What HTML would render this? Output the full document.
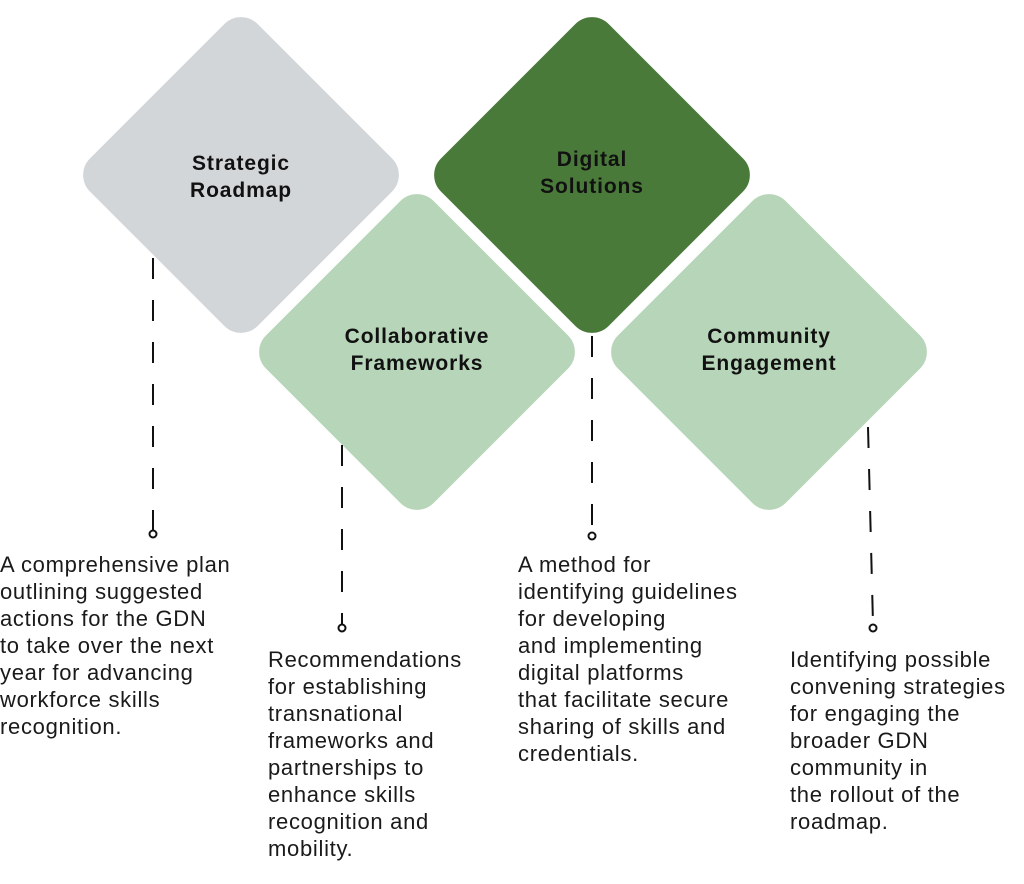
<!DOCTYPE html>
<html><head><meta charset="utf-8"><style>
html,body{margin:0;padding:0;background:#fff;}
body{width:1024px;height:884px;position:relative;overflow:hidden;font-family:"Liberation Sans",sans-serif;}
svg{position:absolute;left:0;top:0;}
.t{position:absolute;font-size:22px;line-height:27px;color:#1a1a1a;white-space:nowrap;letter-spacing:0.7px;}
</style></head><body>
<svg width="1024" height="884" viewBox="0 0 1024 884">
<g stroke="#fff" stroke-width="5">
<rect x="-121" y="-121" width="242" height="242" rx="26" fill="#d3d6d9" transform="translate(241,175) rotate(45)"/>
<rect x="-121" y="-121" width="242" height="242" rx="26" fill="#4a7a3a" transform="translate(592,175) rotate(45)"/>
<rect x="-121" y="-121" width="242" height="242" rx="26" fill="#b7d5b8" transform="translate(417,352) rotate(45)"/>
<rect x="-121" y="-121" width="242" height="242" rx="26" fill="#b7d5b8" transform="translate(769,352) rotate(45)"/>
</g>
<g font-family="Liberation Sans, sans-serif" font-weight="bold" font-size="21" letter-spacing="0.9" text-anchor="middle" fill="#111">
<text x="241" y="170">Strategic</text><text x="241" y="197">Roadmap</text>
<text x="592" y="166">Digital</text><text x="592" y="193">Solutions</text>
<text x="417" y="343">Collaborative</text><text x="417" y="370">Frameworks</text>
<text x="769" y="343">Community</text><text x="769" y="370">Engagement</text>
</g>
<g stroke="#111" stroke-width="2" fill="none" stroke-dasharray="21 21">
<line x1="153" y1="258" x2="153" y2="531"/>
<line x1="342" y1="445" x2="342" y2="624"/>
<line x1="592" y1="336" x2="592" y2="532"/>
<line x1="868" y1="427" x2="873" y2="624"/>
</g>
<g stroke="#111" stroke-width="2" fill="#fff">
<circle cx="153" cy="534" r="3.5"/>
<circle cx="342" cy="628" r="3.5"/>
<circle cx="592" cy="536" r="3.5"/>
<circle cx="873" cy="628" r="3.5"/>
</g>
</svg>
<div class="t" style="left:0;top:551px;">A comprehensive plan<br>outlining suggested<br>actions for the GDN<br>to take over the next<br>year for advancing<br>workforce skills<br>recognition.</div>
<div class="t" style="left:268px;top:646px;">Recommendations<br>for establishing<br>transnational<br>frameworks and<br>partnerships to<br>enhance skills<br>recognition and<br>mobility.</div>
<div class="t" style="left:518px;top:551px;">A method for<br>identifying guidelines<br>for developing<br>and implementing<br>digital platforms<br>that facilitate secure<br>sharing of skills and<br>credentials.</div>
<div class="t" style="left:790px;top:646px;">Identifying possible<br>convening strategies<br>for engaging the<br>broader GDN<br>community in<br>the rollout of the<br>roadmap.</div>
</body></html>
